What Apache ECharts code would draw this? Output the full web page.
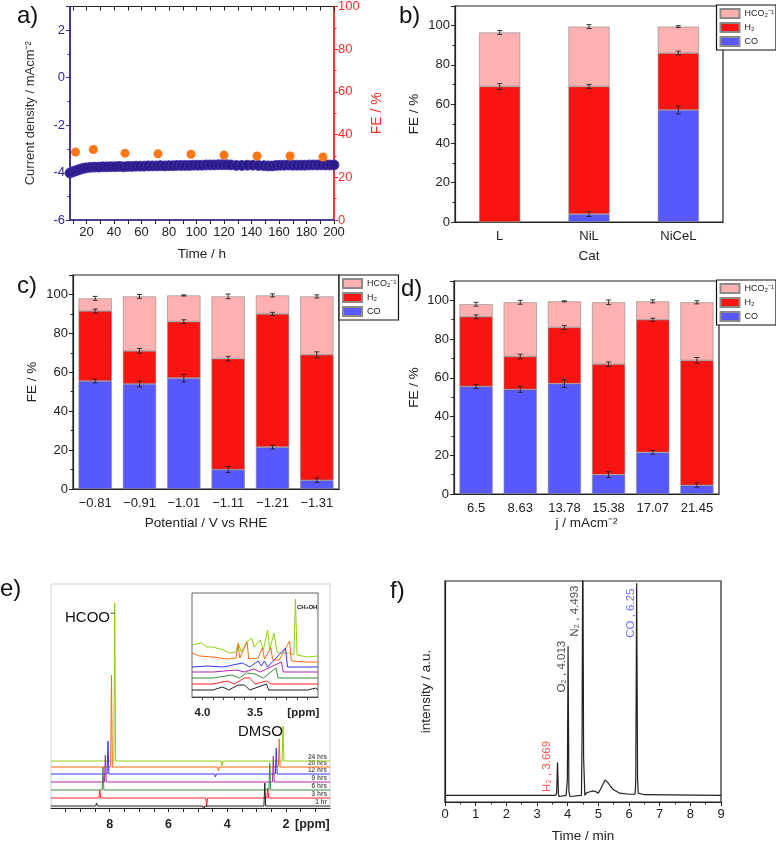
<!DOCTYPE html>
<html>
<head>
<meta charset="utf-8">
<script src="https://cdn.jsdelivr.net/npm/echarts@6/dist/echarts.min.js"></script>
<style>
html, body { margin: 0; padding: 0; background: #fff; }
#main { width: 776px; height: 844px; }
</style>
</head>
<body>
<div id="main"></div>
<script>
var FONT = '"Liberation Sans", Arial, sans-serif';

// a) stability run
var timeH = [8, 10, 12, 14, 16, 18, 20, 23, 26, 29, 32, 35, 38, 41, 44, 47, 50, 53, 56, 59, 62, 65, 68, 71, 74, 77, 80, 83, 86, 89, 92, 95, 98, 101, 104, 107, 110, 113, 116, 119, 122, 125, 129, 133, 137, 141, 145, 149, 152, 155, 158, 161, 164, 167, 170, 173, 176, 179, 182, 185, 188, 191, 194, 197, 200];
var currentDensity = [-4.02, -3.97, -3.93, -3.89, -3.85, -3.82, -3.80, -3.78, -3.77, -3.77, -3.76, -3.76, -3.75, -3.75, -3.74, -3.76, -3.74, -3.74, -3.73, -3.73, -3.73, -3.72, -3.72, -3.72, -3.71, -3.72, -3.71, -3.71, -3.70, -3.70, -3.70, -3.70, -3.69, -3.69, -3.69, -3.68, -3.68, -3.68, -3.67, -3.67, -3.67, -3.68, -3.70, -3.70, -3.69, -3.69, -3.70, -3.71, -3.72, -3.72, -3.70, -3.69, -3.69, -3.68, -3.69, -3.69, -3.69, -3.69, -3.68, -3.68, -3.68, -3.68, -3.68, -3.68, -3.68];
var feTime = [12, 25, 48, 72, 96, 120, 144, 168, 192];
var feValues = [31.8, 33.0, 31.3, 31.0, 30.8, 30.4, 30.0, 30.0, 29.5];
var timeTicks = [10, 20, 30, 40, 50, 60, 70, 80, 90, 100, 110, 120, 130, 140, 150, 160, 170, 180, 190, 200];
var timeLabels = [20, 40, 60, 80, 100, 120, 140, 160, 180, 200];

// b) catalysts (cumulative tops of each stacked segment)
var catalysts = ['L', 'NiL', 'NiCeL'];
var bCoTop = [0, 4, 57];
var bH2Top = [69, 69, 86];
var bTotal = [96.5, 99.5, 99.5];
var bCoErr = [0, 1.2, 2];
var bH2Err = [1.5, 1, 1];
var bTotErr = [1, 1, 0.5];

// c) and d) same runs, two x labelings
var potentials = ['\u22120.81', '\u22120.91', '\u22121.01', '\u22121.11', '\u22121.21', '\u22121.31'];
var currents = ['6.5', '8.63', '13.78', '15.38', '17.07', '21.45'];
var cdCoTop = [55.5, 54, 57, 10, 21.5, 4.5];
var cdH2Top = [91.5, 71, 86, 67, 90, 69];
var cdTotal = [98, 99, 99.5, 99, 99.5, 99];
var cdCoErr = [1, 1.5, 2, 1.5, 1, 1.2];
var cdH2Err = [1, 1.2, 1, 1.2, 0.8, 1.5];
var cdTotErr = [1, 1, 0.3, 1.2, 0.8, 0.8];

var NAME_HCO2 = 'HCO\u2082\u207B\u00B9';
var NAME_H2 = 'H\u2082';
var NAME_CO = 'CO';

// e) 1H NMR, stacked spectra
var nmrLabels = ['24 hrs', '20 hrs', '12 hrs', '9 hrs', '6 hrs', '3 hrs', '1 hr'];
var nmrBase = [47, 41, 34, 26, 18, 10, 2];
var hcooPpm = [7.83, 7.94, 8.06, 8.15, 8.23, 8.34, 8.45];
var hcooHeight = [158, 92, 33, 27, 23, 8, 3];
var waterPpm = [4.18, 4.30, 4.40, 4.50, 4.60, 4.70, 4.80];
var waterDepth = [5, 4, 3, 2, 1, 9, 4];
var dmsoPpm = [2.10, 2.23, 2.33, 2.43, 2.55, 2.62, 2.72];
var dmsoHeight = [35, 28, 26, 26, 27, 10, 23];
var nmrTicks = [1, 1.5, 2, 2.5, 3, 3.5, 4, 4.5, 5, 5.5, 6, 6.5, 7, 7.5, 8, 8.5, 9, 9.5];

// e) inset, 4.1 - 2.9 ppm
var insetGreen = [[4.10, 52], [4.01, 54], [3.96, 50], [3.90, 50], [3.80, 47], [3.74, 44], [3.68, 45], [3.66, 54], [3.63, 45], [3.58, 55], [3.53, 59], [3.51, 50], [3.45, 57], [3.42, 47], [3.38, 67], [3.36, 47], [3.32, 64], [3.29, 45], [3.26, 44], [3.18, 44], [3.13, 42], [3.115, 98], [3.10, 42], [3.00, 40], [2.90, 41]];
var insetOrange = [[4.10, 44], [4.03, 41], [3.90, 40], [3.77, 38], [3.68, 39], [3.66, 53], [3.645, 39], [3.575, 55], [3.56, 38], [3.47, 39], [3.43, 49], [3.41, 38], [3.35, 49], [3.33, 37], [3.27, 37], [3.17, 56], [3.155, 36], [3.03, 35], [2.90, 35]];
var insetBlue = [[4.10, 30], [3.95, 31], [3.80, 30], [3.62, 34], [3.55, 30], [3.47, 36], [3.44, 31], [3.41, 36], [3.38, 30], [3.21, 49], [3.19, 30], [3.05, 30], [2.90, 30]];
var insetPurple = [[4.10, 25], [3.90, 25], [3.68, 27], [3.60, 25], [3.51, 28], [3.45, 25], [3.25, 35], [3.23, 25], [2.90, 25]];
var insetDkGreen = [[4.10, 19], [3.90, 19], [3.72, 22], [3.65, 19], [3.58, 24], [3.50, 23], [3.42, 19], [3.30, 29], [3.28, 19], [2.90, 19]];
var insetRed = [[4.10, 13], [3.90, 13], [3.76, 16], [3.70, 13], [3.60, 19], [3.55, 19], [3.50, 13], [3.39, 16], [3.35, 13], [2.90, 13]];
var insetBlack = [[4.10, 7], [3.90, 7], [3.81, 10], [3.75, 7], [3.66, 12], [3.60, 12], [3.55, 7], [3.39, 13], [3.37, 7], [3.00, 7], [2.92, 9], [2.90, 7]];
var insetTicks = [4.0, 3.9, 3.8, 3.7, 3.6, 3.5, 3.4, 3.3, 3.2, 3.1, 3.0];

// f) GC trace
var gcTrace = [[0, 3], [3.60, 3], [3.64, 4], [3.669, 18], [3.70, 3.5], [3.72, 2.5], [3.95, 3], [3.99, 10], [4.013, 70.5], [4.04, 5], [4.07, 2.5], [4.45, 3], [4.47, 30], [4.493, 130], [4.52, 20], [4.56, 3], [4.60, 4], [4.70, 4.5], [4.80, 5], [4.90, 4.8], [5.00, 4], [5.05, 3.5], [5.08, 6], [5.12, 6], [5.15, 8], [5.22, 10], [5.30, 9], [5.40, 7], [5.50, 5.5], [5.70, 4], [6.00, 3.5], [6.20, 3.5], [6.22, 10], [6.25, 99], [6.28, 10], [6.30, 4], [6.50, 3.3], [9, 3]];
var gcPeaks = [
  { name: 'H\u2082 , 3.669', at: [3.33, 4.5], color: '#ff2a2a' },
  { name: 'O\u2082 , 4.013', at: [3.81, 49.5], color: '#222' },
  { name: 'N\u2082 , 4.493', at: [4.24, 74.8], color: '#222' },
  { name: 'CO , 6.25', at: [6.06, 74.3], color: '#4a4aff' }
];

var C_HCO2 = '#ffb0b0', C_H2 = '#f81411', C_CO = '#5858ff';
var INDIGO = '#34229a', RED = '#ff2a2a';

function tops(coTop, h2Top, total) {
  return {
    co: coTop.slice(),
    h2: h2Top.map(function (v, i) { return v - coTop[i]; }),
    hco2: total.map(function (v, i) { return v - h2Top[i]; })
  };
}

function barSeries(ax, seg, width) {
  var common = { type: 'bar', xAxisIndex: ax, yAxisIndex: ax, stack: 'fe' + ax, barWidth: width };
  return [
    Object.assign({ name: NAME_CO, data: seg.co, itemStyle: { color: C_CO, borderColor: '#8a8a8a', borderWidth: 0.6 } }, common),
    Object.assign({ name: NAME_H2, data: seg.h2, itemStyle: { color: C_H2, borderColor: '#8a8a8a', borderWidth: 0.6 } }, common),
    Object.assign({ name: NAME_HCO2, data: seg.hco2, itemStyle: { color: C_HCO2, borderColor: '#8a8a8a', borderWidth: 0.6 } }, common)
  ];
}

function renderErr(params, api) {
  var i = api.value(0), top = api.value(1), e = api.value(2);
  if (!e) return null;
  var hi = api.coord([i, top + e]), lo = api.coord([i, top - e]);
  var w = 2.5, st = { stroke: '#222', lineWidth: 0.9 };
  return {
    type: 'group',
    children: [
      { type: 'line', shape: { x1: hi[0], y1: hi[1], x2: lo[0], y2: lo[1] }, style: st },
      { type: 'line', shape: { x1: hi[0] - w, y1: hi[1], x2: hi[0] + w, y2: hi[1] }, style: st },
      { type: 'line', shape: { x1: lo[0] - w, y1: lo[1], x2: lo[0] + w, y2: lo[1] }, style: st }
    ]
  };
}

function errSeries(ax, levels) {
  var d = [];
  levels.forEach(function (lv) {
    lv[0].forEach(function (t, i) { d.push([i, t, lv[1][i]]); });
  });
  return { type: 'custom', xAxisIndex: ax, yAxisIndex: ax, renderItem: renderErr, data: d, encode: { x: 0, y: 1 }, z: 10, silent: true };
}

function legendAt(pos) {
  return Object.assign({
    data: [NAME_HCO2, NAME_H2, NAME_CO], orient: 'vertical',
    itemWidth: 19, itemHeight: 9, itemGap: 3, padding: [3, 2, 3, 3],
    borderColor: '#111', borderWidth: 1.2, backgroundColor: '#fff', icon: 'rect',
    selectedMode: false, textStyle: { fontSize: 9, fontFamily: FONT, color: '#222' }
  }, pos);
}

function feAxis(grid, gap) {
  return {
    gridIndex: grid, type: 'value', min: 0, max: 110, interval: 20,
    axisLine: { show: true, lineStyle: { color: '#222', width: 1.2 } },
    axisTick: { show: true, length: 4, lineStyle: { color: '#222' } },
    minorTick: { show: true, splitNumber: 2, length: 2.5, lineStyle: { color: '#222' } },
    axisLabel: { color: '#222', fontSize: 13, showMaxLabel: false, margin: 5 },
    splitLine: { show: false },
    name: 'FE / %', nameLocation: 'middle', nameGap: gap, nameTextStyle: { color: '#222', fontSize: 13.5 }
  };
}

function catAxis(grid, cats, name, gap) {
  return {
    gridIndex: grid, type: 'category', data: cats,
    axisLine: { lineStyle: { color: '#222', width: 1.2 } },
    axisTick: { length: 4, lineStyle: { color: '#222' } },
    axisLabel: { color: '#222', fontSize: 13, margin: 8 },
    name: name, nameLocation: 'middle', nameGap: gap, nameTextStyle: { color: '#222', fontSize: 13.5 }
  };
}

var segB = tops(bCoTop, bH2Top, bTotal);
var segCD = tops(cdCoTop, cdH2Top, cdTotal);

var nmrColors = ['#8fcf10', '#ff6a12', '#3535ff', '#b024b0', '#3c8c3c', '#ff2020', '#222'];
var nmrSeries = nmrLabels.map(function (lab, k) {
  var b = nmrBase[k], w = 0.03;
  var pts = [[10, b],
    [hcooPpm[k] + w, b], [hcooPpm[k], b + hcooHeight[k]], [hcooPpm[k] - w, b],
    [waterPpm[k] + w, b], [waterPpm[k], b - waterDepth[k]], [waterPpm[k] - w, b],
    [dmsoPpm[k] + w, b], [dmsoPpm[k], b + dmsoHeight[k]], [dmsoPpm[k] - w, b],
    [0.5, b]];
  return { type: 'line', xAxisIndex: 5, yAxisIndex: 5, data: pts, showSymbol: false, silent: true,
    lineStyle: { color: nmrColors[k], width: 1 }, z: 3 };
});
var nmrTags = {
  type: 'scatter', xAxisIndex: 5, yAxisIndex: 5, symbolSize: 1, itemStyle: { color: 'transparent' }, silent: true,
  data: nmrLabels.map(function (lab, k) { return { name: lab, value: [0.6, nmrBase[k] + 0.5] }; }),
  label: { show: true, position: 'inside', align: 'right', verticalAlign: 'bottom', formatter: '{b}', fontSize: 6.5, fontWeight: 'bold', color: '#333', fontFamily: FONT }
};

var insetLines = [insetGreen, insetOrange, insetBlue, insetPurple, insetDkGreen, insetRed, insetBlack];
var insetSeries = insetLines.map(function (d, k) {
  return { type: 'line', xAxisIndex: 6, yAxisIndex: 6, data: d, showSymbol: false, silent: true,
    lineStyle: { color: nmrColors[k], width: 1 } };
});

var gcLabels = {
  type: 'scatter', xAxisIndex: 7, yAxisIndex: 7, symbolSize: 1, itemStyle: { color: 'transparent' }, silent: true,
  data: gcPeaks.map(function (p) {
    return { name: p.name, value: p.at, label: { color: p.color } };
  }),
  label: { show: true, position: 'inside', rotate: 90, align: 'left', verticalAlign: 'middle', formatter: '{b}', fontSize: 11.5, fontFamily: FONT }
};

function txt(x, y, s, size, extra) {
  return { type: 'text', x: x, y: y, z: 50, style: Object.assign({ text: s, fontSize: size, fontFamily: FONT, fill: '#111', verticalAlign: 'middle' }, extra || {}) };
}

var chart = echarts.init(document.getElementById('main'), null, { renderer: 'canvas' });
chart.setOption({
  animation: false,
  backgroundColor: '#fff',
  textStyle: { fontFamily: FONT },
  grid: [
    { left: 70, top: 6, width: 264, height: 214, show: true, borderColor: '#222', borderWidth: 1.2, backgroundColor: 'transparent' },
    { left: 455, top: 6, width: 268, height: 216, show: true, borderColor: '#222', borderWidth: 1.2, backgroundColor: 'transparent' },
    { left: 73, top: 275, width: 266, height: 214, show: true, borderColor: '#222', borderWidth: 1.2, backgroundColor: 'transparent' },
    { left: 454, top: 281, width: 265, height: 213, show: true, borderColor: '#222', borderWidth: 1.2, backgroundColor: 'transparent' },
    { left: 51, top: 584, width: 279, height: 224, show: true, borderColor: '#cfcfcf', borderWidth: 1, backgroundColor: 'transparent' },
    { left: 192, top: 593, width: 126, height: 104, show: true, borderColor: '#666', borderWidth: 1, backgroundColor: '#fff' },
    { left: 445, top: 581, width: 276, height: 222, show: true, borderColor: '#222', borderWidth: 1.2, backgroundColor: 'transparent' }
  ],
  legend: [legendAt({ right: 0, top: 5 }), legendAt({ left: 339, top: 275 }), legendAt({ right: 0, top: 280 })],
  xAxis: [
    { gridIndex: 0, type: 'value', min: 8, max: 200,
      axisLine: { onZero: false, lineStyle: { color: INDIGO, width: 1.5 } },
      axisTick: { customValues: timeTicks, length: 4, lineStyle: { color: '#222' } },
      axisLabel: { customValues: timeLabels, color: '#222', fontSize: 13, margin: 6 },
      splitLine: { show: false },
      name: 'Time / h', nameLocation: 'middle', nameGap: 27, nameTextStyle: { color: '#222', fontSize: 13.5 } },
    { gridIndex: 0, type: 'value', position: 'top', min: 8, max: 200,
      axisLine: { show: false, onZero: false },
      axisTick: { show: true, inside: true, customValues: timeTicks, length: 4, lineStyle: { color: '#222' } },
      axisLabel: { show: false }, splitLine: { show: false } },
    catAxis(1, catalysts, 'Cat', 27),
    catAxis(2, potentials, 'Potential / V vs RHE', 27),
    catAxis(3, currents, 'j / mAcm\u207B\u00B2', 22),
    { gridIndex: 4, type: 'value', min: 0.5, max: 10, inverse: true,
      axisLine: { onZero: false, lineStyle: { color: '#222', width: 1.2 } },
      axisTick: { customValues: nmrTicks, length: 4, lineStyle: { color: '#222' } },
      axisLabel: { customValues: [8, 6, 4, 2, 1.1], color: '#222', fontSize: 12.5, fontWeight: 'bold', margin: 10,
        formatter: function (v) { return v < 1.5 ? '[ppm]' : String(v); } },
      splitLine: { show: false } },
    { gridIndex: 5, type: 'value', min: 2.9, max: 4.1, inverse: true,
      axisLine: { onZero: false, lineStyle: { color: '#444', width: 1 } },
      axisTick: { customValues: insetTicks, length: 3, lineStyle: { color: '#444' } },
      axisLabel: { customValues: [4.0, 3.5, 3.04], color: '#222', fontSize: 11.5, fontWeight: 'bold', margin: 10,
        formatter: function (v) { return v < 3.2 ? '[ppm]' : v.toFixed(1); } },
      splitLine: { show: false } },
    { gridIndex: 6, type: 'value', min: 0, max: 9, interval: 1,
      axisLine: { onZero: false, lineStyle: { color: '#222', width: 1.2 } },
      axisTick: { length: 4, lineStyle: { color: '#222' } },
      minorTick: { show: true, splitNumber: 2, length: 2.5, lineStyle: { color: '#222' } },
      axisLabel: { color: '#222', fontSize: 13, margin: 6 },
      splitLine: { show: false },
      name: 'Time / min', nameLocation: 'middle', nameGap: 27, nameTextStyle: { color: '#222', fontSize: 13.5 } }
  ],
  yAxis: [
    { gridIndex: 0, type: 'value', min: -6, max: 3, interval: 2,
      axisLine: { show: true, onZero: false, lineStyle: { color: INDIGO, width: 1.5 } },
      axisTick: { show: true, length: 4, lineStyle: { color: INDIGO } },
      minorTick: { show: true, splitNumber: 2, length: 2.5, lineStyle: { color: INDIGO } },
      axisLabel: { color: INDIGO, fontSize: 13, showMaxLabel: false, margin: 5 },
      splitLine: { show: false },
      name: 'Current density / mAcm\u207B\u00B2', nameLocation: 'middle', nameGap: 33, nameTextStyle: { color: '#333', fontSize: 13 } },
    { gridIndex: 0, type: 'value', position: 'right', min: 0, max: 100, interval: 20,
      axisLine: { show: true, onZero: false, lineStyle: { color: RED, width: 1.5 } },
      axisTick: { show: true, length: 4, lineStyle: { color: RED } },
      minorTick: { show: true, splitNumber: 2, length: 2.5, lineStyle: { color: RED } },
      axisLabel: { color: RED, fontSize: 13, margin: 4 },
      splitLine: { show: false },
      name: 'FE / %', nameLocation: 'middle', nameGap: 36, nameTextStyle: { color: RED, fontSize: 14 } },
    feAxis(1, 34),
    feAxis(2, 34),
    feAxis(3, 33),
    { gridIndex: 4, type: 'value', min: 0, max: 224, show: false },
    { gridIndex: 5, type: 'value', min: 0, max: 104, show: false },
    { gridIndex: 6, type: 'value', min: 0, max: 100,
      axisLine: { show: true, onZero: false, lineStyle: { color: '#222', width: 1.2 } },
      axisTick: { show: false }, axisLabel: { show: false }, splitLine: { show: false },
      name: 'intensity / a.u.', nameLocation: 'middle', nameGap: 12, nameTextStyle: { color: '#222', fontSize: 13.5 } }
  ],
  series: [].concat(
    [{ type: 'scatter', xAxisIndex: 0, yAxisIndex: 0, symbolSize: 10, silent: true,
       data: timeH.map(function (t, i) { return [t, currentDensity[i]]; }),
       itemStyle: { color: '#2b1b88', borderColor: '#4232b0', borderWidth: 0.8, opacity: 1 } },
     { type: 'scatter', xAxisIndex: 0, yAxisIndex: 1, symbolSize: 9, silent: true,
       data: feTime.map(function (t, i) { return [t, feValues[i]]; }),
       itemStyle: { color: '#ff7614', opacity: 1 }, z: 4 }],
    barSeries(2, segB, '46%'),
    [errSeries(2, [[bCoTop, bCoErr], [bH2Top, bH2Err], [bTotal, bTotErr]])],
    barSeries(3, segCD, '75%'),
    [errSeries(3, [[cdCoTop, cdCoErr], [cdH2Top, cdH2Err], [cdTotal, cdTotErr]])],
    barSeries(4, segCD, '75%'),
    [errSeries(4, [[cdCoTop, cdCoErr], [cdH2Top, cdH2Err], [cdTotal, cdTotErr]])],
    nmrSeries,
    [nmrTags],
    insetSeries,
    [{ type: 'line', xAxisIndex: 7, yAxisIndex: 7, data: gcTrace, showSymbol: false, silent: true,
       lineStyle: { color: '#222', width: 1.2 } },
     gcLabels]
  ),
  graphic: [
    txt(17, 16, 'a)', 24),
    txt(399, 16, 'b)', 24),
    txt(17, 286, 'c)', 24),
    txt(401, 289, 'd)', 24),
    txt(0, 589, 'e)', 24),
    txt(390, 591, 'f)', 24),
    txt(65, 618, 'HCOO\u207B', 15),
    txt(238, 732, 'DMSO', 15),
    txt(297, 607, 'CH\u2083OH', 6, { fontWeight: 'bold' })
  ]
});
</script>
</body>
</html>
